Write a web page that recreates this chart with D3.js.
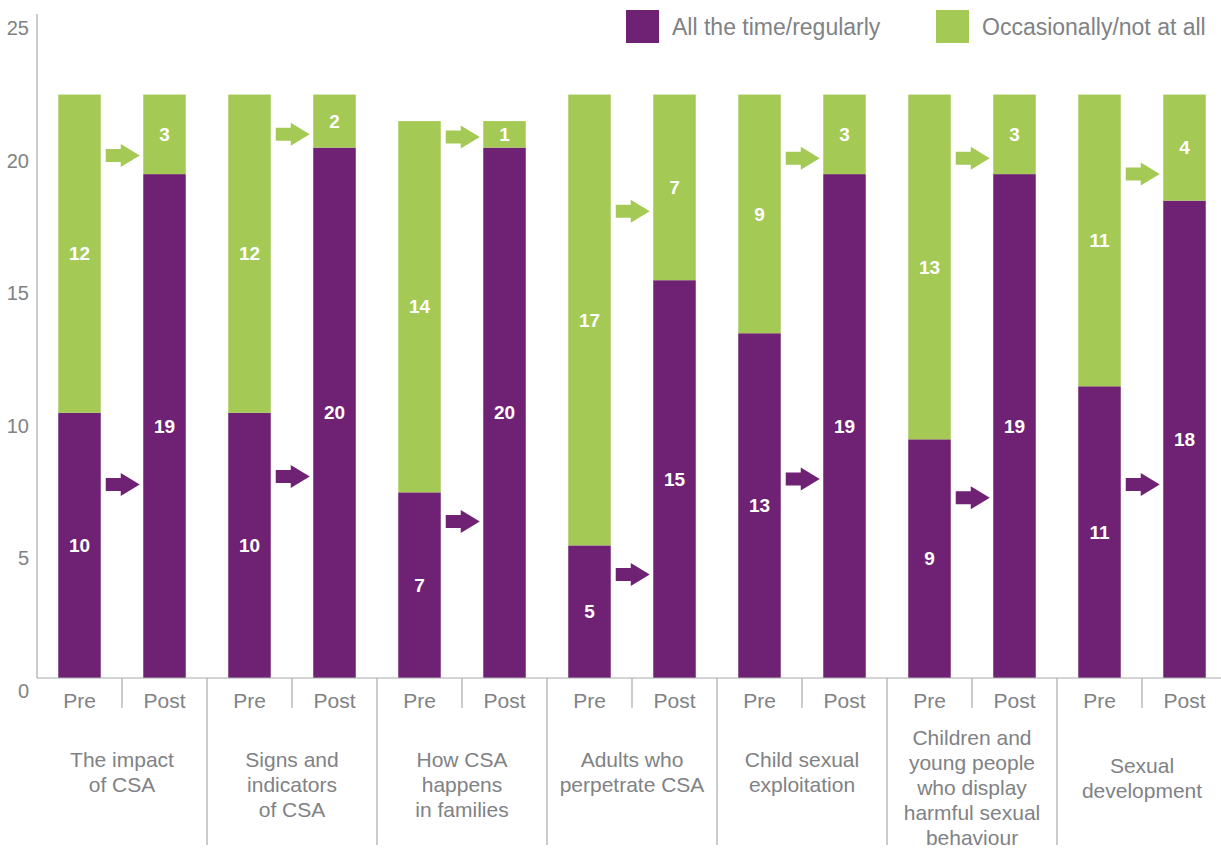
<!DOCTYPE html>
<html lang="en">
<head>
    <meta charset="UTF-8">
    <title>CSA training - Pre and Post</title>
    <script src="https://cdnjs.cloudflare.com/ajax/libs/d3/7.8.5/d3.min.js"></script>
    <style>
        html, body { margin: 0; padding: 0; background: #fff; }
        svg { display: block; font-family: "Liberation Sans", Arial, Helvetica, sans-serif; }
    </style>
</head>
<body>
    <div id="chart"></div>

    <script>
        // Data
        const categories = [
            "The impact of CSA",
            "Signs and indicators of CSA",
            "How CSA happens in families",
            "Adults who perpetrate CSA",
            "Child sexual exploitation",
            "Children and young people who display harmful sexual behaviour",
            "Sexual development"
        ];
        const categoryLines = [
            ["The impact", "of CSA"],
            ["Signs and", "indicators", "of CSA"],
            ["How CSA", "happens", "in families"],
            ["Adults who", "perpetrate CSA"],
            ["Child sexual", "exploitation"],
            ["Children and", "young people", "who display", "harmful sexual", "behaviour"],
            ["Sexual", "development"]
        ];
        const phases = ["Pre", "Post"];
        const seriesNames = ["All the time/regularly", "Occasionally/not at all"];

        const preRegular = [10, 10, 7, 5, 13, 9, 11];
        const preOccasional = [12, 12, 14, 17, 9, 13, 11];
        const postRegular = [19, 20, 20, 15, 19, 19, 18];
        const postOccasional = [3, 2, 1, 7, 3, 3, 4];

        // level (in chart units) at which the change arrows sit
        const arrowOccasional = [19.7, 20.5, 20.4, 17.6, 19.6, 19.6, 19.0];
        const arrowRegular = [7.3, 7.6, 5.9, 3.9, 7.5, 6.8, 7.3];

        const yTicks = [0, 5, 10, 15, 20, 25];

        const purple = "#6f2273";
        const green = "#a5c955";
        const textGray = "#808285";
        const lineGray = "#a7a9ac";

        const width = 1221, height = 848;
        const axisX = 37, groupW = 170, baseY = 678, topY = 15;

        const svg = d3.select("#chart")
            .append("svg")
            .attr("width", width)
            .attr("height", height);

        const x0 = d3.scaleBand()
            .domain(categories)
            .range([axisX, axisX + groupW * categories.length]);

        const x1 = d3.scaleBand()
            .domain(phases)
            .range([0, x0.bandwidth()])
            .paddingInner(0.5)
            .paddingOuter(0.25);

        const y = d3.scaleLinear()
            .domain([0, 25])
            .range([baseY, topY]);

        const color = d3.scaleOrdinal().domain(seriesNames).range([purple, green]);

        // rows for stacking: one per category x phase
        const rows = [];
        categories.forEach((c, i) => {
            rows.push({ cat: c, phase: "Pre", [seriesNames[0]]: preRegular[i], [seriesNames[1]]: preOccasional[i] });
            rows.push({ cat: c, phase: "Post", [seriesNames[0]]: postRegular[i], [seriesNames[1]]: postOccasional[i] });
        });
        const stacked = d3.stack().keys(seriesNames)(rows);

        // Y axis line and labels
        svg.append("line")
            .attr("x1", axisX).attr("x2", axisX)
            .attr("y1", y(25) - 1).attr("y2", baseY)
            .attr("stroke", lineGray).attr("stroke-width", 1.2);

        svg.append("g")
            .selectAll("text")
            .data(yTicks)
            .join("text")
            .attr("x", 29)
            .attr("y", d => y(d) + 13)
            .attr("dy", "0.35em")
            .attr("text-anchor", "end")
            .attr("fill", textGray)
            .style("font-size", "20px")
            .text(d => d);

        // Bars
        const layer = svg.append("g")
            .selectAll("g")
            .data(stacked)
            .join("g")
            .attr("fill", d => color(d.key));

        layer.selectAll("rect")
            .data(d => d)
            .join("rect")
            .attr("x", d => x0(d.data.cat) + x1(d.data.phase))
            .attr("width", x1.bandwidth())
            .attr("y", d => y(d[1]))
            .attr("height", d => y(d[0]) - y(d[1]));

        // Value labels
        layer.selectAll("text")
            .data(d => d)
            .join("text")
            .attr("x", d => x0(d.data.cat) + x1(d.data.phase) + x1.bandwidth() / 2)
            .attr("y", d => y((d[0] + d[1]) / 2))
            .attr("dy", "0.35em")
            .attr("text-anchor", "middle")
            .attr("fill", "#fff")
            .style("font-size", "19px")
            .style("font-weight", "bold")
            .text(d => d[1] - d[0]);

        // Arrows between Pre and Post
        const arrowPath = (len, shaftH, headH, headL) => {
            const s = len - headL;
            return `M0,${-shaftH / 2}H${s}V${-headH / 2}L${len},0L${s},${headH / 2}V${shaftH / 2}H0Z`;
        };
        const arrows = [];
        categories.forEach((c, i) => {
            arrows.push({ cat: c, level: arrowRegular[i], key: seriesNames[0] });
            arrows.push({ cat: c, level: arrowOccasional[i], key: seriesNames[1] });
        });
        svg.append("g")
            .selectAll("path")
            .data(arrows)
            .join("path")
            .attr("transform", d => `translate(${x0(d.cat) + x1("Pre") + x1.bandwidth() + 5},${y(d.level)})`)
            .attr("d", arrowPath(34, 13, 23, 19))
            .attr("fill", d => color(d.key));

        // Baseline
        svg.append("line")
            .attr("x1", axisX).attr("x2", width)
            .attr("y1", baseY).attr("y2", baseY)
            .attr("stroke", lineGray).attr("stroke-width", 1.2);

        // Dividers: short ones between Pre and Post, long ones between groups
        svg.append("g")
            .selectAll("line")
            .data(categories)
            .join("line")
            .attr("x1", d => x0(d) + x0.bandwidth() / 2)
            .attr("x2", d => x0(d) + x0.bandwidth() / 2)
            .attr("y1", baseY).attr("y2", baseY + 30)
            .attr("stroke", lineGray).attr("stroke-width", 1.2);

        svg.append("g")
            .selectAll("line")
            .data(categories.slice(1))
            .join("line")
            .attr("x1", d => x0(d))
            .attr("x2", d => x0(d))
            .attr("y1", baseY).attr("y2", 845)
            .attr("stroke", lineGray).attr("stroke-width", 1.2);

        // Pre / Post labels
        const phaseLabels = [];
        categories.forEach(c => phases.forEach(p => phaseLabels.push({ cat: c, phase: p })));
        svg.append("g")
            .selectAll("text")
            .data(phaseLabels)
            .join("text")
            .attr("x", d => x0(d.cat) + x1(d.phase) + x1.bandwidth() / 2)
            .attr("y", baseY + 23)
            .attr("dy", "0.35em")
            .attr("text-anchor", "middle")
            .attr("fill", textGray)
            .style("font-size", "21px")
            .text(d => d.phase);

        // Category labels
        const catG = svg.append("g")
            .selectAll("text")
            .data(categories)
            .join("text")
            .attr("text-anchor", "middle")
            .attr("fill", textGray)
            .style("font-size", "21px")
            .attr("transform", (d, i) => {
                const n = categoryLines[i].length;
                const first = n > 3 ? 738 : (n === 2 && i === 6 ? 766 : 760);
                return `translate(${x0(d) + x0.bandwidth() / 2},${first})`;
            });

        catG.selectAll("tspan")
            .data((d, i) => categoryLines[i])
            .join("tspan")
            .attr("x", 0)
            .attr("y", (d, j) => j * 25)
            .attr("dy", "0.35em")
            .text(d => d);

        // Legend
        const legend = svg.append("g")
            .selectAll("g")
            .data(seriesNames)
            .join("g")
            .attr("transform", (d, i) => `translate(${i === 0 ? 626 : 936},10)`);

        legend.append("rect")
            .attr("width", 33)
            .attr("height", 33)
            .attr("fill", d => color(d));

        legend.append("text")
            .attr("x", 46)
            .attr("y", 17)
            .attr("dy", "0.35em")
            .attr("fill", textGray)
            .style("font-size", "23px")
            .text(d => d);
    </script>
</body>
</html>
